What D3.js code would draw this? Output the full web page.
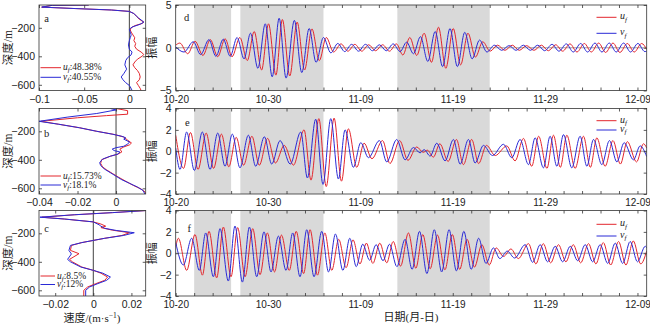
<!DOCTYPE html>
<html>
<head>
<meta charset="utf-8">
<script src="https://cdn.jsdelivr.net/npm/d3@7/dist/d3.min.js"></script>
<style>
  body { margin: 0; background: #fff; }
  svg { display: block; font-family: "Liberation Serif", "Times New Roman", "Noto Sans CJK SC", serif; }
</style>
</head>
<body>
<svg id="chart" width="650" height="328"></svg>
<script>
// ---------- vertical profiles (value, depth) ----------
const profDepthDomain = [-40, -640];
const profXDomains = [[-0.1, 0.0181], [-0.04, 0.0154], [-0.0285, 0.0275]];
const profXTicks = [[-0.1, -0.05, 0], [-0.04, -0.02, 0], [-0.02, 0, 0.02]];
const profXLabels = [["−0.1", "−0.05", "0"], ["−0.04", "−0.02", "0"], ["−0.02", "0", "0.02"]];
const depthTicks = [-200, -400, -600];
const depthLabels = ["−200", "−400", "−600"];
const profLetters = ["a", "b", "c"];
const profPctU = ["48.38%", "15.73%", "8.5%"];
const profPctV = ["40.55%", "18.1%", "12%"];

const profAU = [[-0.045,-40],[-0.085,-42],[-0.097,-55],[-0.06,-65],[-0.02,-75],[0.0,-85],[0.005,-100],[0.008,-120],[0.011,-140],[0.016,-160],[0.014,-170],[0.006,-185],[0.002,-200],[0.001,-215],[0.002,-230],[0.004,-250],[0.006,-270],[0.005,-290],[0.007,-310],[0.006,-330],[0.008,-350],[0.013,-370],[0.016,-387],[0.014,-400],[0.009,-420],[0.006,-440],[0.004,-460],[0.006,-480],[0.009,-500],[0.011,-520],[0.012,-545],[0.011,-565],[0.008,-585],[0.010,-605],[0.012,-625],[0.013,-640]];
const profAV = [[-0.045,-40],[-0.085,-42],[-0.097,-55],[-0.06,-65],[-0.02,-75],[0.0,-85],[0.005,-100],[0.010,-130],[0.016,-160],[0.012,-175],[0.003,-195],[0.0,-210],[0.001,-230],[0.002,-250],[0.001,-270],[0.0,-290],[-0.001,-320],[0.0,-350],[0.003,-370],[0.002,-390],[-0.002,-410],[-0.004,-430],[-0.005,-460],[-0.003,-490],[-0.006,-520],[-0.009,-545],[-0.007,-565],[-0.004,-585],[0.0,-605],[0.002,-625],[0.003,-640]];
const profBU = [[0.0,-40],[0.006,-55],[0.006,-80],[-0.005,-90],[-0.02,-105],[-0.039,-130],[-0.03,-150],[-0.019,-175],[-0.01,-200],[-0.001,-222],[0.004,-240],[0.006,-262],[0.008,-282],[0.007,-295],[0.004,-310],[0.002,-325],[0.003,-345],[0.001,-360],[-0.003,-375],[-0.0075,-400],[-0.008,-425],[-0.007,-450],[-0.005,-470],[-0.002,-495],[0.001,-520],[0.005,-550],[0.009,-580],[0.013,-605],[0.015,-625],[0.0155,-640]];
const profBV = [[-0.003,-40],[0.0,-50],[-0.01,-75],[-0.025,-100],[-0.04,-130],[-0.03,-150],[-0.019,-175],[-0.01,-200],[-0.002,-220],[0.003,-235],[0.005,-245],[0.004,-255],[0.007,-275],[0.006,-290],[0.004,-305],[0.0,-315],[-0.002,-325],[-0.001,-335],[0.002,-345],[0.001,-360],[-0.003,-375],[-0.007,-395],[-0.0085,-420],[-0.008,-440],[-0.006,-465],[-0.003,-490],[0.0,-515],[0.003,-540],[0.007,-565],[0.011,-590],[0.014,-615],[0.015,-640]];
const profCU = [[0.028,-40],[0.01,-55],[-0.01,-70],[-0.027,-87],[-0.015,-100],[0.0,-120],[0.004,-135],[0.0065,-150],[0.004,-160],[0.010,-178],[0.019,-196],[0.015,-215],[0.006,-235],[0.0,-250],[-0.006,-265],[-0.0115,-285],[-0.012,-320],[-0.0075,-343],[-0.0125,-383],[-0.011,-400],[-0.006,-437],[0.0,-460],[0.004,-480],[0.0075,-507],[0.006,-530],[0.001,-555],[-0.003,-577],[-0.005,-600],[-0.005,-640]];
const profCV = [[0.028,-40],[0.01,-55],[-0.01,-70],[-0.028,-87],[-0.015,-100],[0.0,-120],[0.003,-140],[0.004,-150],[0.006,-165],[0.012,-180],[0.0215,-196],[0.016,-215],[0.006,-235],[0.0,-250],[-0.006,-265],[-0.012,-285],[-0.0128,-320],[-0.0115,-345],[-0.0135,-383],[-0.012,-400],[-0.0065,-437],[0.0,-460],[0.005,-480],[0.009,-507],[0.007,-530],[0.002,-555],[-0.002,-577],[-0.004,-600],[-0.004,-640]];

// ---------- time series (day since 10-20, amplitude) ----------
const dayDomain = [0, 51];
const dayTicks = d3.range(0, 52, 2);
const dateTickDays = [0, 10, 20, 30, 40, 50];
const dateLabels = ["10-20", "10-30", "11-09", "11-19", "11-29", "12-09"];
const shadeStart = [2, 7, 24];
const shadeEnd = [6, 16, 34];
const ampLimits = [5, 4, 4];
const ampTicks = [[-5, 0, 5], [-4, -2, 0, 2, 4], [-4, -2, 0, 2, 4]];
const ampLabels = [["−5", "0", "5"], ["−4", "−2", "0", "2", "4"], ["−4", "−2", "0", "2", "4"]];
const tsLetters = ["d", "e", "f"];

const dU = [[0,0.3],[0.45,0.55],[1.3,-0.7],[2.1,0.75],[2.95,-0.9],[3.75,0.95],[4.55,-1.05],[5.35,1.05],[6.1,-1.05],[6.95,1.2],[7.75,-1.5],[8.5,1.9],[9.3,-2.6],[10.05,2.8],[10.85,-3.2],[11.55,3.3],[12.35,-3.3],[13.15,3.0],[13.95,-2.6],[14.75,2.2],[15.55,-1.5],[16.3,1.2],[17.1,-0.5],[17.9,0.45],[18.65,-0.4],[19.4,0.4],[20.15,-0.4],[20.9,0.35],[21.65,-0.35],[22.4,0.35],[23.15,-0.4],[23.9,0.45],[24.6,-0.85],[25.35,1.2],[26.1,-0.9],[26.9,1.7],[27.7,-1.7],[28.45,2.4],[29.25,-2.4],[30.05,2.25],[30.85,-2.0],[31.65,1.7],[32.45,-1.1],[33.25,0.7],[34.05,-0.4],[34.85,0.3],[35.65,-0.3],[36.45,0.3],[37.2,-0.3],[38.0,0.25],[38.8,-0.3],[39.6,0.3],[40.35,-0.35],[41.15,0.35],[41.9,-0.4],[42.7,0.45],[43.45,-0.5],[44.25,0.5],[45.0,-0.5],[45.8,0.55],[46.55,-0.55],[47.35,0.55],[48.1,-0.55],[48.9,0.5],[49.65,-0.5],[50.45,0.5],[51,-0.2]];
const dV = [[0,0.1],[0.9,-0.5],[1.9,0.7],[2.7,-0.8],[3.6,0.95],[4.35,-1.0],[5.15,1.0],[5.9,-1.0],[6.65,1.2],[7.4,-1.3],[8.1,1.7],[8.9,-2.4],[9.7,2.8],[10.45,-3.4],[11.2,3.45],[11.95,-3.55],[12.85,3.2],[13.65,-2.9],[14.45,2.25],[15.2,-1.7],[16.0,1.2],[16.8,-0.6],[17.55,0.5],[18.3,-0.45],[19.05,0.4],[19.8,-0.4],[20.55,0.4],[21.3,-0.35],[22.05,0.35],[22.8,-0.35],[23.55,0.45],[24.3,-0.45],[25.0,0.65],[25.75,-0.7],[26.5,1.3],[27.3,-1.6],[28.1,1.9],[28.9,-2.2],[29.7,2.25],[30.5,-2.2],[31.3,1.8],[32.1,-1.3],[32.9,0.9],[33.7,-0.5],[34.5,0.3],[35.3,-0.3],[36.1,0.25],[36.85,-0.3],[37.65,0.3],[38.4,-0.3],[39.2,0.3],[39.95,-0.35],[40.75,0.4],[41.5,-0.4],[42.3,0.45],[43.05,-0.5],[43.85,0.5],[44.6,-0.5],[45.4,0.55],[46.15,-0.5],[46.95,0.55],[47.7,-0.5],[48.5,0.55],[49.25,-0.5],[50.05,0.5],[50.8,-0.45],[51,-0.4]];
const eU = [[0,1.5],[0.85,-1.6],[1.6,1.75],[2.42,-1.7],[3.3,1.7],[4.1,-1.6],[4.95,1.6],[5.75,-1.45],[6.55,1.3],[7.35,-1.3],[8.25,1.4],[9.05,-1.3],[9.95,1.2],[10.8,-1.1],[11.75,0.55],[12.75,-1.3],[13.9,2.0],[14.65,-2.7],[15.5,3.05],[16.3,-3.3],[17.15,3.1],[17.95,-2.8],[18.7,2.1],[19.6,-1.5],[20.4,0.75],[21.25,-0.7],[22.4,1.0],[23.2,-1.15],[24.25,1.0],[25.15,-0.85],[26.1,0.4],[26.8,-0.1],[27.25,0.1],[27.9,-0.55],[28.6,0.7],[29.5,-0.95],[30.4,1.1],[31.15,-1.25],[32.05,1.1],[32.8,-1.15],[33.65,0.55],[34.6,-0.4],[35.85,0.5],[36.75,-0.9],[37.65,1.2],[38.55,-1.4],[39.3,1.4],[40.2,-1.6],[40.9,1.5],[41.65,-1.5],[42.35,1.5],[43.25,-1.6],[44.15,1.4],[44.9,-1.5],[45.6,1.25],[46.5,-1.4],[47.35,1.0],[48.15,-1.2],[48.9,0.9],[49.9,-1.0],[50.65,0.7],[51,0.3]];
const eV = [[0,0.3],[0.47,-1.7],[1.19,1.8],[2.02,-1.8],[2.88,1.8],[3.72,-1.7],[4.55,1.7],[5.34,-1.4],[6.13,1.6],[6.96,-1.55],[7.87,1.5],[8.66,-1.4],[9.6,1.35],[10.4,-1.2],[11.3,1.0],[12.4,-1.2],[13.54,1.8],[14.26,-2.5],[15.16,3.0],[15.95,-3.1],[16.79,3.05],[17.62,-2.6],[18.34,2.0],[19.24,-1.5],[20.04,0.8],[20.87,-0.6],[22.06,1.0],[22.85,-1.0],[23.93,1.1],[24.84,-0.8],[25.74,0.35],[26.46,-0.15],[26.9,0.15],[27.55,-0.45],[28.27,0.75],[29.17,-0.9],[30.07,1.1],[30.8,-1.2],[31.7,1.1],[32.42,-1.1],[33.32,0.55],[34.3,-0.4],[35.49,0.65],[36.39,-0.6],[37.29,1.1],[38.2,-1.25],[38.92,1.25],[39.82,-1.55],[40.54,1.4],[41.27,-1.4],[41.99,1.55],[42.89,-1.55],[43.79,1.4],[44.52,-1.4],[45.24,1.1],[46.14,-1.25],[46.97,1.0],[47.77,-1.0],[48.56,0.8],[49.57,-0.8],[50.29,0.5],[51,-0.5]];
const fU = [[0,0.6],[0.29,1.4],[1.19,-1.6],[2.09,1.75],[2.89,-2.05],[3.61,2.05],[4.44,-2.3],[5.16,2.45],[5.99,-2.2],[6.71,2.4],[7.51,-2.2],[8.34,2.3],[9.13,-2.0],[9.93,1.9],[10.7,-1.75],[11.45,1.7],[12.3,-1.6],[13.05,2.05],[13.85,-1.9],[14.55,2.2],[15.35,-2.05],[16.15,1.9],[16.9,-1.6],[17.65,1.3],[18.45,-1.35],[19.2,1.25],[19.95,-1.0],[20.65,0.95],[21.35,-0.95],[22.1,0.95],[22.85,-0.9],[23.55,1.1],[24.35,-1.2],[25.2,1.9],[26.0,-1.4],[26.75,1.75],[27.55,-1.45],[28.35,1.7],[29.15,-1.55],[29.95,1.75],[30.75,-1.5],[31.55,1.3],[32.35,-1.3],[33.15,0.8],[33.95,-1.1],[34.7,0.5],[35.5,-0.3],[36.3,0.4],[37.1,-0.5],[38.2,0.9],[39.0,-1.0],[39.8,0.9],[40.6,-0.9],[41.45,0.8],[42.25,-0.8],[43.05,0.8],[43.85,-0.9],[44.7,0.9],[45.5,-1.0],[46.3,1.0],[47.1,-1.1],[47.95,1.1],[48.75,-1.1],[49.55,1.15],[50.35,-1.0],[51,0.2]];
const fV = [[0,1.0],[0.83,-1.1],[1.73,1.4],[2.56,-1.6],[3.25,1.9],[4.08,-2.2],[4.8,2.3],[5.7,-2.6],[6.42,2.55],[7.22,-2.7],[7.98,2.45],[8.77,-2.2],[9.56,2.0],[10.32,-1.75],[11.12,1.6],[11.95,-1.6],[12.67,1.9],[13.46,-2.2],[14.19,2.2],[14.98,-2.2],[15.81,2.05],[16.55,-1.75],[17.3,1.8],[18.1,-1.6],[18.85,1.4],[19.55,-1.25],[20.25,0.85],[21.0,-0.65],[21.7,0.8],[22.45,-0.7],[23.15,0.85],[23.95,-1.25],[24.84,1.3],[25.6,-1.5],[26.4,2.05],[27.2,-1.9],[28.0,2.2],[28.8,-1.75],[29.6,2.2],[30.4,-1.65],[31.2,2.05],[32.0,-1.5],[32.8,1.4],[33.6,-0.95],[34.4,0.5],[35.1,-0.5],[35.9,0.2],[36.7,-0.45],[37.84,0.8],[38.65,-0.85],[39.46,0.8],[40.27,-0.8],[41.09,0.65],[41.9,-0.8],[42.72,0.65],[43.53,-0.7],[44.34,0.8],[45.15,-0.8],[45.96,0.8],[46.78,-0.95],[47.59,0.95],[48.4,-0.95],[49.21,1.1],[50.0,-0.8],[50.84,0.65],[51,0.5]];

// ---------- layout & style ----------
const RED = "#e3262d", BLUE = "#2a2ad6", SHADE = "#d9d9d9", INK = "#222";
const rowTop = [5, 108.5, 210.5], rowH = 85.5;
const profX = [39, 145.7], tsX = [175.7, 646.7];
const legendTs = [[17.3, 33.3], [120.7, 130], [224.3, 236]];
const legendProf = [[67.7, 77.3], [176, 185], [276, 284.5]];
const legendProfLineEnd = [61, 61, 55];
const profLetterPos = [[46.7, 22], [46.7, 137], [46.7, 232]];
const tsLetterPos = [[186.7, 20.5], [187.3, 125.5], [189.3, 232]];
const TICK_FS = 10;

const svg = d3.select("#chart");
const profU = [profAU, profBU, profCU], profV = [profAV, profBV, profCV];
const tsU = [dU, eU, fU], tsV = [dV, eV, fV];

function frame(g, xs, ys, xt, xl, yt, yl, xfs) {
  const [x0, x1] = xs.range(), [y0, y1] = ys.range();
  const lab = (ticks, labels) => v => { const i = ticks.indexOf(v); return i < 0 ? "" : labels[i]; };
  const bottom = g.append("g").attr("transform", `translate(0,${y1})`)
    .call(d3.axisBottom(xs).tickValues(xt).tickSizeInner(-3).tickSizeOuter(0).tickPadding(5).tickFormat(lab(xl.t, xl.l)));
  g.append("g").attr("transform", `translate(0,${y0})`)
    .call(d3.axisTop(xs).tickValues(xt).tickSizeInner(-3).tickSizeOuter(0).tickFormat(""));
  const left = g.append("g").attr("transform", `translate(${x0},0)`)
    .call(d3.axisLeft(ys).tickValues(yt).tickSizeInner(-3).tickSizeOuter(0).tickPadding(4).tickFormat(lab(yt, yl)));
  g.append("g").attr("transform", `translate(${x1},0)`)
    .call(d3.axisRight(ys).tickValues(yt).tickSizeInner(-3).tickSizeOuter(0).tickFormat(""));
  g.selectAll(".domain").remove();
  g.selectAll(".tick line").attr("stroke", "#333").attr("stroke-width", 0.8);
  g.selectAll(".tick text").attr("fill", INK).attr("font-family", null);
  left.selectAll(".tick text").attr("font-size", TICK_FS + 0.5);
  bottom.selectAll(".tick text").attr("font-size", xfs);
  g.append("rect").attr("x", x0).attr("y", y0).attr("width", x1 - x0).attr("height", y1 - y0)
    .attr("fill", "none").attr("stroke", "#333").attr("stroke-width", 0.8);
}

function subLabel(sel, base, rest) {
  sel.append("tspan").attr("font-style", "italic").text(base);
  sel.append("tspan").attr("font-style", "italic").attr("font-size", 7).attr("dy", 2.2).text("f");
  if (rest) sel.append("tspan").attr("dy", -2.2).text(rest);
}

// ---------- profile panels ----------
for (let i = 0; i < 3; i++) {
  const top = rowTop[i], bot = top + rowH;
  const xs = d3.scaleLinear().domain(profXDomains[i]).range(profX);
  const ys = d3.scaleLinear().domain(profDepthDomain).range([top, bot]);
  const g = svg.append("g");
  const cid = "pclip" + i;
  g.append("clipPath").attr("id", cid).append("rect")
    .attr("x", profX[0]).attr("y", top).attr("width", profX[1] - profX[0]).attr("height", rowH);
  g.append("line").attr("x1", xs(0)).attr("x2", xs(0)).attr("y1", top).attr("y2", bot)
    .attr("stroke", "#111").attr("stroke-width", 0.8);
  const line = d3.line().x(d => xs(d[0])).y(d => ys(d[1]));
  const pg = g.append("g").attr("clip-path", `url(#${cid})`);
  pg.append("path").attr("d", line(profU[i])).attr("fill", "none").attr("stroke", RED).attr("stroke-width", 1);
  pg.append("path").attr("d", line(profV[i])).attr("fill", "none").attr("stroke", BLUE).attr("stroke-width", 1);
  frame(g, xs, ys, profXTicks[i], { t: profXTicks[i], l: profXLabels[i] }, depthTicks, depthLabels, 10.5);

  g.append("text").attr("x", profLetterPos[i][0]).attr("y", profLetterPos[i][1]).attr("text-anchor", "middle")
    .attr("font-size", 10.5).attr("fill", INK).text(profLetters[i]);

  // legend
  const [ly1, ly2] = legendProf[i];
  const lx1 = 40.5, lx2 = legendProfLineEnd[i];
  g.append("line").attr("x1", lx1).attr("x2", lx2).attr("y1", ly1).attr("y2", ly1).attr("stroke", RED).attr("stroke-width", 1);
  g.append("line").attr("x1", lx1).attr("x2", lx2).attr("y1", ly2).attr("y2", ly2).attr("stroke", BLUE).attr("stroke-width", 1);
  subLabel(g.append("text").attr("x", lx2 + 2).attr("y", ly1 + 2.5).attr("font-size", 9.5).attr("fill", INK), "u", ":" + profPctU[i]);
  subLabel(g.append("text").attr("x", lx2 + 2).attr("y", ly2 + 2.5).attr("font-size", 9.5).attr("fill", INK), "v", ":" + profPctV[i]);

  g.append("text").attr("transform", `translate(12,${top + rowH / 2}) rotate(-90)`)
    .attr("text-anchor", "middle").attr("font-size", 11.5).attr("fill", INK).text("深度/m");
}

// ---------- time-series panels ----------
for (let i = 0; i < 3; i++) {
  const top = rowTop[i], bot = top + rowH;
  const xs = d3.scaleLinear().domain(dayDomain).range(tsX);
  const ys = d3.scaleLinear().domain([ampLimits[i], -ampLimits[i]]).range([top, bot]);
  const g = svg.append("g");
  const cid = "tclip" + i;
  g.append("clipPath").attr("id", cid).append("rect")
    .attr("x", tsX[0]).attr("y", top).attr("width", tsX[1] - tsX[0]).attr("height", rowH);

  g.selectAll("rect.shade").data(d3.zip(shadeStart, shadeEnd)).join("rect").attr("class", "shade")
    .attr("x", d => xs(d[0])).attr("width", d => xs(d[1]) - xs(d[0]))
    .attr("y", top).attr("height", rowH).attr("fill", SHADE);

  g.append("line").attr("x1", tsX[0]).attr("x2", tsX[1]).attr("y1", ys(0)).attr("y2", ys(0))
    .attr("stroke", "#777").attr("stroke-width", 0.7);

  const line = d3.line().x(d => xs(d[0])).y(d => ys(d[1])).curve(d3.curveMonotoneX);
  const pg = g.append("g").attr("clip-path", `url(#${cid})`);
  pg.append("path").attr("d", line(tsU[i])).attr("fill", "none").attr("stroke", RED).attr("stroke-width", 1);
  pg.append("path").attr("d", line(tsV[i])).attr("fill", "none").attr("stroke", BLUE).attr("stroke-width", 1);

  frame(g, xs, ys, dayTicks, { t: dateTickDays, l: dateLabels }, ampTicks[i], ampLabels[i], 10);

  g.append("text").attr("x", tsLetterPos[i][0]).attr("y", tsLetterPos[i][1]).attr("text-anchor", "middle")
    .attr("font-size", 10.5).attr("fill", INK).text(tsLetters[i]);

  const [ly1, ly2] = legendTs[i];
  g.append("line").attr("x1", 596.5).attr("x2", 616.5).attr("y1", ly1).attr("y2", ly1).attr("stroke", RED).attr("stroke-width", 1);
  g.append("line").attr("x1", 596.5).attr("x2", 616.5).attr("y1", ly2).attr("y2", ly2).attr("stroke", BLUE).attr("stroke-width", 1);
  subLabel(g.append("text").attr("x", 620).attr("y", ly1 + 2).attr("font-size", 10).attr("fill", INK), "u");
  subLabel(g.append("text").attr("x", 620).attr("y", ly2 + 2).attr("font-size", 10).attr("fill", INK), "v");

  g.append("text").attr("transform", `translate(156,${top + rowH / 2}) rotate(-90)`)
    .attr("text-anchor", "middle").attr("font-size", 11).attr("fill", INK).text("振幅");
}

// ---------- axis titles ----------
const vel = svg.append("text").attr("x", 92).attr("y", 322).attr("text-anchor", "middle")
  .attr("font-size", 11).attr("fill", INK);
vel.append("tspan").text("速度/(m·s");
vel.append("tspan").attr("dy", -4).attr("font-size", 7.5).text("−1");
vel.append("tspan").attr("dy", 4).text(")");
svg.append("text").attr("x", 411).attr("y", 321).attr("text-anchor", "middle")
  .attr("font-size", 11).attr("fill", INK).text("日期(月-日)");
</script>
</body>
</html>
